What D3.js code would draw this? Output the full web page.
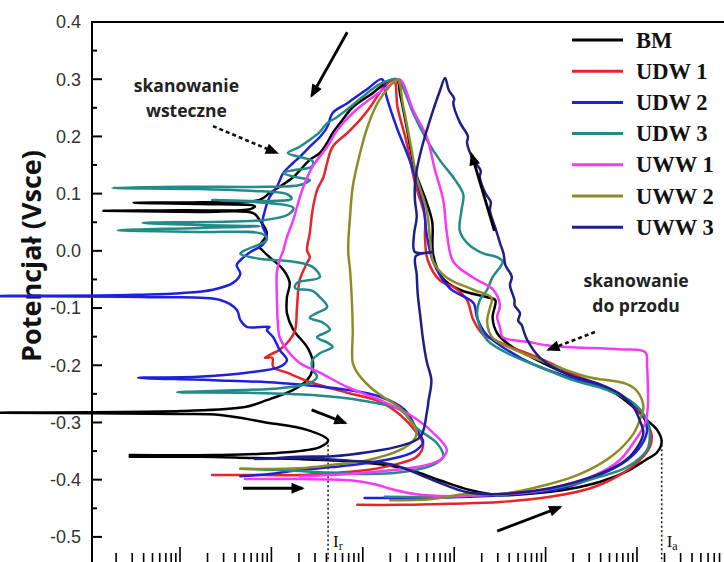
<!DOCTYPE html>
<html lang="pl">
<head>
    <meta charset="utf-8">
    <script src="https://d3js.org/d3.v7.min.js" type="text/javascript"></script>
    <style type="text/css">
        body { margin: 0; background: #fff; }
        svg { display: block; background: #fff; }
        .ylab { font-family: "Liberation Sans", Arial, sans-serif; font-size: 18px; fill: #333; }
        .ytitle { font-family: "Open Sans", sans-serif; font-weight: 700; font-size: 27px; fill: #111; }
        .legend text { font-family: "Liberation Serif", "Times New Roman", serif; font-weight: 700; font-size: 22.5px; fill: #111; }
        .note { font-family: "Open Sans", sans-serif; font-weight: 700; font-size: 17.5px; fill: #222; }
        .ilab { font-family: "Liberation Serif", serif; font-size: 17px; fill: #111; }
        .curve { fill: none; stroke-width: 2.5; stroke-linejoin: round; stroke-linecap: round; }
    </style>
</head>
<body>

<svg width="724" height="562"></svg>

<script type="text/javascript">

    // [log10 i (A/cm2), E (V vs SCE)]
    var bm = [
        [-8.55,-0.360],[-7.78,-0.360],[-7.23,-0.362],[-6.69,-0.364],[-6.25,-0.367],[-5.81,-0.373],[-5.48,-0.383],[-5.16,-0.401],
        [-4.83,-0.418],[-4.50,-0.427],[-4.06,-0.423],[-3.73,-0.416],[-3.41,-0.404],[-3.13,-0.387],[-2.91,-0.366],[-2.78,-0.352],
        [-2.73,-0.334],[-2.78,-0.313],[-2.89,-0.296],[-3.04,-0.273],[-3.26,-0.247],[-3.55,-0.227],[-3.84,-0.210],[-4.14,-0.187],
        [-4.39,-0.165],[-4.53,-0.144],[-4.58,-0.117],[-4.55,-0.086],[-4.64,-0.081],[-4.94,-0.068],[-5.13,-0.047],[-5.23,-0.007],
        [-5.24,0.050],[-5.30,0.084],[-5.43,0.141],[-5.52,0.216],[-5.59,0.272],[-5.63,0.300],
        [-5.76,0.292],[-5.89,0.276],[-6.11,0.251],[-6.25,0.223],[-6.33,0.206],[-6.39,0.189],[-6.47,0.171],[-6.58,0.159],
        [-6.76,0.129],[-6.91,0.112],[-7.02,0.101],[-7.13,0.089],[-7.78,0.085],[-8.51,0.084],[-7.78,0.082],[-7.18,0.078],
        [-7.23,0.073],[-8.00,0.071],[-8.84,0.070],[-7.78,0.068],[-7.20,0.066],[-7.13,0.054],[-7.05,0.031],[-7.13,0.007],
        [-7.10,0.001],[-7.02,-0.011],[-6.87,-0.033],[-6.80,-0.056],[-6.83,-0.081],[-6.83,-0.109],[-6.76,-0.138],[-6.61,-0.168],
        [-6.55,-0.191],[-6.55,-0.208],[-6.61,-0.226],[-6.76,-0.243],[-7.05,-0.261],[-7.29,-0.273],[-8.00,-0.280],[-10.0,-0.283],
        [-8.00,-0.285],[-7.56,-0.287],[-7.09,-0.299],[-6.61,-0.313],[-6.38,-0.331],[-6.47,-0.343],[-6.91,-0.353],[-7.64,-0.357],
        [-8.55,-0.357]
    ];

    var udw1 = [
        [-6.06,-0.444],[-5.59,-0.444],[-5.05,-0.442],[-4.50,-0.439],[-3.95,-0.430],[-3.51,-0.415],[-3.19,-0.392],[-2.97,-0.366],
        [-2.86,-0.343],[-2.84,-0.322],[-2.91,-0.296],[-3.04,-0.269],[-3.24,-0.247],[-3.41,-0.235],[-3.68,-0.217],[-3.95,-0.196],
        [-4.23,-0.177],[-4.39,-0.168],[-4.55,-0.156],[-4.68,-0.147],[-4.79,-0.121],[-4.86,-0.086],[-4.99,-0.065],[-5.16,-0.051],
        [-5.29,-0.016],[-5.32,0.024],[-5.32,0.059],[-5.43,0.119],[-5.52,0.189],[-5.62,0.251],[-5.66,0.299],
        [-5.76,0.288],[-5.92,0.251],[-6.03,0.229],[-6.17,0.206],[-6.33,0.182],[-6.39,0.154],[-6.43,0.129],[-6.50,0.106],
        [-6.55,0.071],[-6.58,0.031],[-6.61,0.001],[-6.58,-0.011],[-6.61,-0.021],[-6.69,-0.051],[-6.72,-0.098],[-6.74,-0.138],
        [-6.80,-0.156],[-6.91,-0.173],[-7.02,-0.182],[-7.07,-0.187],[-6.99,-0.187],[-6.98,-0.203],[-6.83,-0.213],[-6.55,-0.231],
        [-6.17,-0.248],[-5.81,-0.264],[-5.59,-0.287],[-5.41,-0.318],[-5.34,-0.339],[-5.41,-0.360],[-5.59,-0.371],[-5.95,-0.383],
        [-6.33,-0.388],[-6.69,-0.392],[-7.13,-0.392],[-7.65,-0.392]
    ];

    var udw2 = [
        [-5.98,-0.432],[-5.37,-0.432],[-4.83,-0.430],[-4.28,-0.425],[-3.84,-0.416],[-3.41,-0.392],[-3.11,-0.366],[-2.95,-0.339],
        [-2.89,-0.313],[-2.97,-0.278],[-3.26,-0.245],[-3.62,-0.227],[-4.14,-0.198],[-4.50,-0.165],[-4.66,-0.144],[-4.75,-0.117],
        [-4.79,-0.091],[-5.05,-0.065],[-5.23,-0.019],[-5.30,0.028],[-5.34,0.080],[-5.48,0.155],[-5.63,0.216],[-5.74,0.269],
        [-5.79,0.300],
        [-5.95,0.283],[-6.17,0.258],[-6.33,0.241],[-6.39,0.216],[-6.47,0.199],[-6.58,0.182],[-6.69,0.164],[-6.76,0.154],
        [-6.87,0.136],[-6.94,0.112],[-7.02,0.094],[-7.07,0.071],[-7.10,0.045],[-7.05,0.024],[-7.10,0.010],[-7.23,-0.002],
        [-7.31,-0.012],[-7.38,-0.025],[-7.34,-0.040],[-7.42,-0.056],[-7.64,-0.068],[-8.00,-0.074],[-8.55,-0.077],[-10.0,-0.079],
        [-8.33,-0.081],[-7.56,-0.086],[-7.38,-0.103],[-7.34,-0.121],[-7.27,-0.133],[-7.02,-0.133],[-7.05,-0.138],[-6.98,-0.151],
        [-6.91,-0.173],[-6.83,-0.191],[-6.91,-0.203],[-7.27,-0.213],[-7.81,-0.220],[-8.46,-0.222],[-7.64,-0.226],[-6.91,-0.231],
        [-6.17,-0.243],[-5.81,-0.255],[-5.54,-0.278],[-5.41,-0.313],[-5.34,-0.334],[-5.41,-0.348],[-5.59,-0.360],[-5.95,-0.371],
        [-6.33,-0.378],[-6.69,-0.383],[-7.02,-0.390],[-7.34,-0.394]
    ];

    var udw3 = [
        [-5.76,-0.430],[-5.26,-0.430],[-4.72,-0.427],[-4.28,-0.423],[-3.84,-0.413],[-3.41,-0.395],[-3.11,-0.378],[-2.89,-0.348],
        [-2.86,-0.318],[-2.89,-0.296],[-3.04,-0.266],[-3.33,-0.243],[-3.70,-0.226],[-4.06,-0.203],[-4.42,-0.179],[-4.64,-0.156],
        [-4.72,-0.133],[-4.75,-0.109],[-4.72,-0.086],[-4.64,-0.068],[-4.58,-0.046],[-4.47,-0.019],[-4.53,-0.011],[-4.69,-0.004],
        [-4.86,0.014],[-4.94,0.036],[-4.92,0.071],[-4.90,0.098],[-4.99,0.124],[-5.16,0.159],[-5.30,0.194],[-5.45,0.241],
        [-5.56,0.285],[-5.62,0.300],
        [-5.81,0.292],[-5.95,0.276],[-6.11,0.255],[-6.28,0.234],[-6.39,0.223],[-6.47,0.208],[-6.58,0.194],[-6.69,0.182],
        [-6.82,0.171],[-6.69,0.164],[-6.55,0.157],[-6.56,0.147],[-6.76,0.141],[-6.87,0.136],[-6.74,0.129],[-6.58,0.124],
        [-6.69,0.115],[-7.05,0.112],[-8.00,0.112],[-8.74,0.110],[-7.78,0.108],[-7.23,0.105],[-6.83,0.099],[-6.78,0.091],
        [-7.07,0.087],[-7.65,0.089],[-7.07,0.084],[-6.76,0.075],[-6.82,0.063],[-7.07,0.054],[-8.41,0.049],[-7.78,0.045],
        [-7.13,0.043],[-7.78,0.040],[-8.68,0.036],[-7.78,0.033],[-7.09,0.029],[-7.05,0.019],[-7.29,0.001],[-7.34,-0.005],
        [-7.13,-0.014],[-6.76,-0.019],[-6.55,-0.028],[-6.47,-0.046],[-6.72,-0.056],[-6.74,-0.065],[-6.55,-0.070],[-6.47,-0.081],
        [-6.39,-0.098],[-6.52,-0.110],[-6.58,-0.117],[-6.43,-0.126],[-6.36,-0.138],[-6.50,-0.151],[-6.38,-0.161],[-6.33,-0.168],
        [-6.47,-0.179],[-6.55,-0.191],[-6.55,-0.208],[-6.50,-0.220],[-6.58,-0.231],[-6.91,-0.240],[-8.03,-0.247],[-7.27,-0.248],
        [-6.55,-0.252],[-6.00,-0.262],[-5.59,-0.278],[-5.41,-0.310],[-5.19,-0.336],[-5.12,-0.360],[-5.23,-0.374],[-5.59,-0.387],
        [-5.95,-0.390],[-6.47,-0.387],[-6.91,-0.383],[-7.34,-0.381]
    ];

    var uww1 = [
        [-7.29,-0.399],[-6.69,-0.399],[-6.14,-0.401],[-5.87,-0.408],[-5.65,-0.418],[-5.43,-0.425],[-5.05,-0.429],[-4.72,-0.427],
        [-4.17,-0.422],[-3.79,-0.409],[-3.46,-0.392],[-3.19,-0.366],[-3.02,-0.331],[-2.91,-0.301],[-2.88,-0.269],[-2.88,-0.243],
        [-2.89,-0.203],[-2.91,-0.177],[-3.19,-0.172],[-3.77,-0.168],[-3.99,-0.165],[-4.20,-0.159],[-4.36,-0.156],[-4.47,-0.151],
        [-4.50,-0.133],[-4.53,-0.116],[-4.50,-0.095],[-4.58,-0.067],[-4.79,-0.047],[-5.01,-0.019],[-5.08,0.031],[-5.12,0.089],
        [-5.21,0.141],[-5.30,0.199],[-5.45,0.246],[-5.56,0.293],[-5.60,0.300],
        [-5.70,0.290],[-5.89,0.269],[-6.11,0.241],[-6.28,0.211],[-6.39,0.182],[-6.55,0.147],[-6.65,0.112],[-6.72,0.077],
        [-6.76,0.054],[-6.83,0.024],[-6.87,0.001],[-6.91,-0.016],[-6.94,-0.037],[-6.94,-0.081],[-6.93,-0.126],[-6.91,-0.151],
        [-6.83,-0.173],[-6.69,-0.196],[-6.47,-0.213],[-6.17,-0.238],[-5.81,-0.261],[-5.48,-0.287],[-5.23,-0.318],[-5.08,-0.348],
        [-5.16,-0.366],[-5.41,-0.378],[-5.78,-0.385],[-6.14,-0.390],[-6.69,-0.394]
    ];

    var uww2 = [
        [-5.70,-0.436],[-5.26,-0.434],[-4.86,-0.425],[-4.50,-0.425],[-4.14,-0.415],[-3.62,-0.390],[-3.26,-0.357],[-3.04,-0.320],
        [-2.97,-0.296],[-2.93,-0.273],[-3.00,-0.245],[-3.11,-0.233],[-3.55,-0.220],[-3.95,-0.198],[-4.31,-0.175],[-4.58,-0.152],
        [-4.64,-0.124],[-4.61,-0.100],[-4.59,-0.082],[-4.79,-0.068],[-5.08,-0.047],[-5.23,-0.018],[-5.26,0.014],[-5.30,0.070],
        [-5.41,0.129],[-5.48,0.189],[-5.56,0.255],[-5.62,0.299],
        [-5.72,0.285],[-5.84,0.258],[-5.95,0.216],[-6.03,0.171],[-6.11,0.112],[-6.14,0.059],[-6.16,0.001],[-6.14,-0.033],
        [-6.12,-0.086],[-6.11,-0.138],[-6.11,-0.196],[-6.06,-0.213],[-5.92,-0.238],[-5.78,-0.255],[-5.59,-0.275],[-5.45,-0.304],
        [-5.41,-0.318],[-5.45,-0.332],[-5.59,-0.348],[-5.95,-0.366],[-6.33,-0.374],[-6.69,-0.380],[-7.34,-0.381]
    ];

    var uww3 = [
        [-7.18,-0.364],[-6.69,-0.362],[-6.14,-0.367],[-5.67,-0.374],[-5.23,-0.401],[-4.86,-0.422],[-4.50,-0.425],[-3.95,-0.415],
        [-3.41,-0.390],[-3.11,-0.364],[-2.97,-0.336],[-2.93,-0.318],[-2.97,-0.296],[-3.04,-0.273],[-3.19,-0.250],[-3.41,-0.233],
        [-3.77,-0.215],[-4.06,-0.187],[-4.20,-0.156],[-4.24,-0.140],[-4.26,-0.130],[-4.30,-0.122],[-4.28,-0.109],[-4.34,-0.095],
        [-4.34,-0.086],[-4.39,-0.060],[-4.37,-0.045],[-4.44,-0.025],[-4.46,-0.005],[-4.50,0.014],[-4.53,0.030],[-4.55,0.040],
        [-4.61,0.071],[-4.60,0.085],[-4.66,0.101],[-4.72,0.129],[-4.71,0.140],[-4.79,0.159],[-4.86,0.189],[-4.85,0.200],
        [-4.94,0.225],[-5.01,0.258],[-5.00,0.266],[-5.06,0.281],[-5.10,0.302],
        [-5.16,0.278],[-5.23,0.246],[-5.29,0.216],[-5.34,0.189],[-5.38,0.164],[-5.41,0.141],[-5.43,0.115],[-5.43,0.089],
        [-5.41,0.059],[-5.44,0.028],[-5.43,-0.002],[-5.23,-0.002],[-5.42,-0.009],[-5.41,-0.042],[-5.40,-0.074],[-5.37,-0.116],
        [-5.34,-0.156],[-5.30,-0.194],[-5.25,-0.226],[-5.28,-0.261],[-5.30,-0.283],[-5.37,-0.325],[-5.59,-0.341],[-5.95,-0.352],
        [-6.33,-0.359],[-6.69,-0.360],[-7.10,-0.364]
    ];

    var seriesNames = ["BM", "UDW 1", "UDW 2", "UDW 3", "UWW 1", "UWW 2", "UWW 3"];
    var seriesData = [bm, udw1, udw2, udw3, uww1, uww2, uww3];
    var seriesColors = ["#000000", "#e8232a", "#2020dc", "#238a8a", "#f43af4", "#8c8c26", "#1e1e86"];

    var yTicks = [0.4, 0.3, 0.2, 0.1, 0.0, -0.1, -0.2, -0.3, -0.4, -0.5];
    var yTickLabels = ["0.4", "0.3", "0.2", "0.1", "0.0", "-0.1", "-0.2", "-0.3", "-0.4", "-0.5"];
    var yMinorTicks = [0.35, 0.25, 0.15, 0.05, -0.05, -0.15, -0.25, -0.35, -0.45];

    // arrows: [from logI, from E, to logI, to E]
    var solidArrows = [
        [-6.17, 0.382, -6.56, 0.271],
        [-4.56, 0.035, -4.81, 0.169],
        [-6.56, -0.278, -6.19, -0.301],
        [-7.31, -0.415, -6.66, -0.415],
        [-4.53, -0.490, -3.84, -0.448]
    ];
    var dashedArrows = [
        [-7.64, 0.218, -6.94, 0.171],
        [-3.46, -0.142, -3.97, -0.173]
    ];
    // I_r and I_a: log i at the noses of the BM loop
    var markers = [{ name: "r", logI: -6.38, E: -0.331 }, { name: "a", logI: -2.73, E: -0.331 }];

    var notes = [
        { lines: ["skanowanie", "wsteczne"], logI: -7.93, E: 0.278 },
        { lines: ["skanowanie", "do przodu"], logI: -3.01, E: -0.063 }
    ];

    var svg = d3.select("svg");

    var x = d3.scaleLog()
        .domain([Math.pow(10, -8.963), Math.pow(10, -1.873)])
        .range([92, 740]);
    var y = d3.scaleLinear()
        .domain([-0.55, 0.4])
        .range([565.5, 22]);

    function px(v) { return x(Math.pow(10, v)); }

    // frame: left and top (the rest is cut off)
    svg.append("line").attr("x1", 92).attr("y1", 22).attr("x2", 92).attr("y2", 566)
        .attr("stroke", "#000").attr("stroke-width", 2);
    svg.append("line").attr("x1", 91).attr("y1", 22).attr("x2", 724).attr("y2", 22)
        .attr("stroke", "#000").attr("stroke-width", 2);

    // y ticks (inward)
    svg.selectAll(".ymaj").data(yTicks).enter().append("line")
        .attr("x1", 91).attr("x2", 102)
        .attr("y1", function (d) { return y(d); }).attr("y2", function (d) { return y(d); })
        .attr("stroke", "#000").attr("stroke-width", 2);
    svg.selectAll(".ymin").data(yMinorTicks).enter().append("line")
        .attr("x1", 91).attr("x2", 97)
        .attr("y1", function (d) { return y(d); }).attr("y2", function (d) { return y(d); })
        .attr("stroke", "#000").attr("stroke-width", 2);
    svg.selectAll(".ylab").data(yTicks).enter().append("text")
        .attr("class", "ylab")
        .attr("x", 81)
        .attr("y", function (d) { return y(d); })
        .attr("dy", "0.35em")
        .attr("text-anchor", "end")
        .text(function (d, i) { return yTickLabels[i]; });

    // x ticks (log, inward from the hidden bottom axis)
    var xt = x.ticks().filter(function (d) { return x(d) > 95 && x(d) < 724; });
    svg.selectAll(".xt").data(xt).enter().append("line")
        .attr("x1", function (d) { return x(d); }).attr("x2", function (d) { return x(d); })
        .attr("y1", 566)
        .attr("y2", function (d) {
            var l = Math.log10(d);
            return Math.abs(l - Math.round(l)) < 1e-6 ? 547 : 553;
        })
        .attr("stroke", "#000").attr("stroke-width", 1.6);

    svg.append("text")
        .attr("class", "ytitle")
        .attr("transform", "translate(41,256) rotate(-90)")
        .attr("text-anchor", "middle")
        .text("Potencjał (Vsce)");

    // dashed verticals I_r, I_a
    markers.forEach(function (m) {
        svg.append("line")
            .attr("x1", px(m.logI)).attr("x2", px(m.logI))
            .attr("y1", y(m.E)).attr("y2", 562)
            .attr("stroke", "#111").attr("stroke-width", 1.5)
            .attr("stroke-dasharray", "2,2.5");
        var t = svg.append("text").attr("class", "ilab")
            .attr("x", px(m.logI) + 5).attr("y", 547);
        t.append("tspan").text("I");
        t.append("tspan").attr("font-size", "12px").attr("dy", 3).text(m.name);
    });

    // curves
    var line = d3.line()
        .x(function (d) { return px(d[0]); })
        .y(function (d) { return y(d[1]); })
        .curve(d3.curveCatmullRom.alpha(0.5));

    svg.selectAll(".curve").data(seriesData).enter().append("path")
        .attr("class", "curve")
        .attr("d", line)
        .attr("stroke", function (d, i) { return seriesColors[i]; });

    // arrows
    var defs = svg.append("defs");
    defs.append("marker")
        .attr("id", "head")
        .attr("viewBox", "0 -5 12 10")
        .attr("refX", 10).attr("refY", 0)
        .attr("markerUnits", "userSpaceOnUse")
        .attr("markerWidth", 14).attr("markerHeight", 11)
        .attr("orient", "auto")
        .append("path").attr("d", "M0,-5L12,0L0,5Z").attr("fill", "#000");

    svg.selectAll(".sarrow").data(solidArrows).enter().append("line")
        .attr("x1", function (d) { return px(d[0]); }).attr("y1", function (d) { return y(d[1]); })
        .attr("x2", function (d) { return px(d[2]); }).attr("y2", function (d) { return y(d[3]); })
        .attr("stroke", "#000").attr("stroke-width", 2.8)
        .attr("marker-end", "url(#head)");

    svg.selectAll(".darrow").data(dashedArrows).enter().append("line")
        .attr("x1", function (d) { return px(d[0]); }).attr("y1", function (d) { return y(d[1]); })
        .attr("x2", function (d) { return px(d[2]); }).attr("y2", function (d) { return y(d[3]); })
        .attr("stroke", "#111").attr("stroke-width", 2.6)
        .attr("stroke-dasharray", "4,3")
        .attr("marker-end", "url(#head)");

    notes.forEach(function (n) {
        var t = svg.append("text").attr("class", "note")
            .attr("text-anchor", "middle")
            .attr("x", px(n.logI)).attr("y", y(n.E));
        n.lines.forEach(function (s, i) {
            t.append("tspan").attr("x", px(n.logI)).attr("dy", i ? 25 : 0).text(s);
        });
    });

    // legend
    var legend = svg.append("g").attr("class", "legend");
    seriesNames.forEach(function (name, i) {
        var ly = 40 + i * 31.2;
        legend.append("line")
            .attr("x1", 572).attr("x2", 623).attr("y1", ly).attr("y2", ly)
            .attr("stroke", seriesColors[i]).attr("stroke-width", 3);
        legend.append("text")
            .attr("x", 636).attr("y", ly + 7.5)
            .text(name);
    });

</script>
</body>
</html>
